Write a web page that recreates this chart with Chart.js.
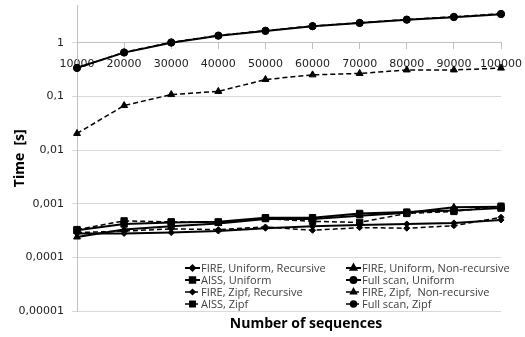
<!DOCTYPE html>
<html>
<head>
<meta charset="utf-8">
<script src="https://cdn.jsdelivr.net/npm/chart.js@4.4.0/dist/chart.umd.min.js"></script>
<style>
    html, body { margin: 0; padding: 0; background: #fff; }
</style>
</head>
<body>
<canvas id="timeChart" width="525" height="337"></canvas>
<script>
// Data
const categories = ['10000', '20000', '30000', '40000', '50000', '60000', '70000', '80000', '90000', '100000'];

const fireUniformRec    = [0.00028, 0.00028, 0.00029, 0.00031, 0.00035, 0.00038, 0.00040, 0.00042, 0.00044, 0.00050];
const fireUniformNonRec = [0.00024, 0.00033, 0.00038, 0.00043, 0.00052, 0.00052, 0.00060, 0.00068, 0.00086, 0.00088];
const aissUniform       = [0.00032, 0.00042, 0.00045, 0.00046, 0.00055, 0.00055, 0.00066, 0.00070, 0.00075, 0.00083];
const fullScanUniform   = [0.344, 0.66, 1.01, 1.36, 1.67, 2.04, 2.35, 2.70, 3.03, 3.44];
const fireZipfRec       = [0.00029, 0.00031, 0.00034, 0.00033, 0.00037, 0.00032, 0.00036, 0.00035, 0.00039, 0.00056];
const fireZipfNonRec    = [0.0205, 0.068, 0.109, 0.125, 0.208, 0.254, 0.27, 0.314, 0.314, 0.34];
const aissZipf          = [0.00033, 0.00048, 0.00046, 0.00045, 0.00053, 0.00047, 0.00045, 0.00066, 0.00072, 0.00090];
const fullScanZipf      = [0.34, 0.67, 1.03, 1.38, 1.70, 2.07, 2.38, 2.74, 3.08, 3.50];

const yTickValues = [0.00001, 0.0001, 0.001, 0.01, 0.1, 1];
const yTickLabels = ['0,00001', '0,0001', '0,001', '0,01', '0,1', '1'];

function series(label, data, marker, size, dashed) {
    return {
        label: label,
        data: data,
        borderColor: '#000',
        backgroundColor: '#000',
        borderWidth: dashed ? 1.5 : 2,
        borderDash: dashed ? [5, 3] : [],
        pointStyle: marker,
        pointRadius: size,
        pointBorderWidth: 1,
        tension: 0,
        fill: false
    };
}

// order = legend order, row by row in two columns
const datasets = [
    series('FIRE, Uniform, Recursive', fireUniformRec, 'rectRot', 3, false),
    series('FIRE, Uniform, Non-recursive', fireUniformNonRec, 'triangle', 4, false),
    series('AISS, Uniform', aissUniform, 'rect', 4.5, false),
    series('Full scan, Uniform', fullScanUniform, 'circle', 3.5, false),
    series('FIRE, Zipf, Recursive', fireZipfRec, 'rectRot', 3, true),
    series('FIRE, Zipf,  Non-recursive', fireZipfNonRec, 'triangle', 4, true),
    series('AISS, Zipf', aissZipf, 'rect', 4.5, true),
    series('Full scan, Zipf', fullScanZipf, 'circle', 3.5, true)
];

// legend in two columns inside the plot + bottom axis title
const extrasPlugin = {
    id: 'extras',
    afterDraw(chart) {
        const ctx = chart.ctx;
        ctx.save();
        chart.data.datasets.forEach((ds, i) => {
            const col = i % 2;
            const row = Math.floor(i / 2);
            const x = col ? 346 : 185;
            const y = 268 + row * 12;
            ctx.strokeStyle = '#000';
            ctx.fillStyle = '#000';
            ctx.lineWidth = ds.borderWidth;
            ctx.setLineDash(ds.borderDash);
            ctx.beginPath();
            ctx.moveTo(x, y);
            ctx.lineTo(x + 15, y);
            ctx.stroke();
            ctx.setLineDash([]);
            Chart.helpers.drawPoint(ctx, {
                pointStyle: ds.pointStyle,
                radius: ds.pointRadius * 0.85,
                borderWidth: 1,
                rotation: 0
            }, x + 7.5, y);
            ctx.fillStyle = '#404040';
            ctx.font = '11px "Open Sans"';
            ctx.textBaseline = 'middle';
            ctx.textAlign = 'left';
            ctx.fillText(ds.label, x + 16, y + 0.5);
        });
        ctx.fillStyle = '#000';
        ctx.font = 'bold 14px "Open Sans"';
        ctx.textAlign = 'center';
        ctx.textBaseline = 'middle';
        ctx.fillText('Number of sequences', 306, 324);
        ctx.restore();
    }
};

// no extra room for edge labels, the plot fills the frame like the original
function noEdgePadding(scale) {
    scale.paddingTop = 0;
    scale.paddingBottom = 0;
    scale.paddingLeft = 0;
    scale.paddingRight = 0;
}

const ctx = document.getElementById('timeChart').getContext('2d');
new Chart(ctx, {
    type: 'line',
    data: {
        labels: categories,
        datasets: datasets
    },
    options: {
        responsive: false,
        animation: false,
        layout: {
            padding: { top: 3, right: 24, bottom: 26, left: 0 }
        },
        plugins: {
            legend: { display: false },
            tooltip: { enabled: false }
        },
        scales: {
            x: {
                type: 'category',
                position: { y: 1 },
                offset: false,
                afterFit: noEdgePadding,
                grid: {
                    display: true,
                    drawOnChartArea: false,
                    drawTicks: true,
                    tickLength: 6,
                    color: '#bfbfbf'
                },
                border: { display: true, color: '#bfbfbf' },
                ticks: {
                    autoSkip: false,
                    maxRotation: 0,
                    padding: 9,
                    color: '#222',
                    font: { family: 'DejaVu Sans', size: 11 }
                }
            },
            y: {
                type: 'logarithmic',
                min: 0.00001,
                max: 5,
                afterBuildTicks: (scale) => {
                    scale.ticks = yTickValues.map(v => ({ value: v }));
                },
                afterFit: (scale) => {
                    scale.width = 77;
                    noEdgePadding(scale);
                },
                grid: {
                    color: '#d9d9d9',
                    tickLength: 5
                },
                border: { display: true, color: '#bfbfbf' },
                ticks: {
                    padding: 8,
                    color: '#222',
                    font: { family: 'DejaVu Sans', size: 11 },
                    callback: (value, index) => yTickLabels[index]
                },
                title: {
                    display: true,
                    text: 'Time  [s]',
                    color: '#000',
                    padding: { top: 12, bottom: 0 },
                    font: { family: 'Open Sans', size: 14, weight: 'bold' }
                }
            }
        }
    },
    plugins: [extrasPlugin]
});
</script>
</body>
</html>
